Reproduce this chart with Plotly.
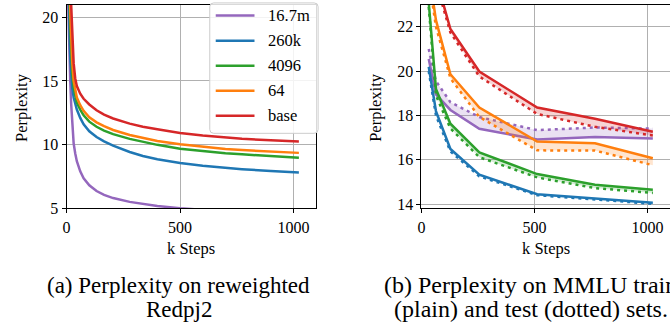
import plotly.graph_objects as go

# ---------------- data: (a) Perplexity on reweighted Redpj2 ----------------
steps_a = [4, 8, 12, 16, 20, 25, 31, 38, 45, 60, 75, 100, 132, 165, 205, 278,
           336, 400, 500, 600, 700, 773, 900, 1024]
ppl_167m = [23.0, 19.5, 17.0, 15.0, 13.2, 11.5, 10.1, 9.3, 8.7, 7.9, 7.35, 6.8,
            6.35, 6.05, 5.8, 5.5, 5.32, 5.18, 5.0, 4.86, 4.74, 4.66, 4.55, 4.46]
ppl_260k = [35.0, 24.0, 19.5, 16.8, 15.3, 14.4, 13.7, 13.15, 12.75, 12.1, 11.6,
            11.05, 10.6, 10.25, 9.92, 9.42, 9.1, 8.85, 8.55, 8.33, 8.17, 8.07,
            7.92, 7.8]
ppl_4096 = [38.0, 27.0, 22.0, 19.2, 17.2, 15.6, 14.5, 13.75, 13.3, 12.75, 12.3,
            11.8, 11.4, 11.1, 10.82, 10.45, 10.2, 9.98, 9.68, 9.48, 9.33, 9.24,
            9.08, 8.96]
ppl_64 = [40.0, 29.0, 23.5, 20.5, 18.3, 16.4, 15.0, 14.2, 13.7, 13.1, 12.65,
          12.15, 11.75, 11.45, 11.15, 10.75, 10.5, 10.28, 10.02, 9.82, 9.66,
          9.57, 9.45, 9.35]
ppl_base = [45.0, 33.0, 27.0, 23.5, 21.0, 18.6, 16.4, 15.2, 14.6, 14.0, 13.6,
            13.15, 12.7, 12.35, 12.05, 11.65, 11.4, 11.2, 10.92, 10.72, 10.56,
            10.46, 10.34, 10.24]

# ---------------- data: (b) MMLU train (plain) / test (dotted) ----------------
steps_b = [32, 64, 128, 256, 512, 768, 1024]
train_167m = [20.55, 18.95, 18.25, 17.4, 16.92, 17.03, 16.96]
test_167m = [21.0, 19.55, 18.6, 17.93, 17.34, 17.46, 17.41]
train_260k = [20.2, 18.2, 16.49, 15.33, 14.45, 14.26, 14.07]
test_260k = [20.0, 18.0, 16.38, 15.26, 14.41, 14.21, 14.02]
train_4096 = [23.1, 19.2, 17.63, 16.34, 15.36, 14.88, 14.65]
test_4096 = [22.9, 18.9, 17.42, 16.12, 15.21, 14.73, 14.51]
train_64 = [24.5, 22.3, 19.86, 18.36, 16.83, 16.75, 16.07]
test_64 = [24.2, 22.0, 19.68, 17.93, 16.43, 16.42, 15.76]
train_base = [26.0, 24.2, 21.9, 19.98, 18.36, 17.85, 17.27]
test_base = [25.8, 24.0, 21.74, 19.76, 18.07, 17.49, 17.1]

labels = ["16.7m", "260k", "4096", "64", "base"]
colors = ["#9467bd", "#1f77b4", "#2ca02c", "#ff7f0e", "#d62728"]
fills = ["rgba(148,103,189,0.2)", "rgba(31,119,180,0.2)", "rgba(44,160,44,0.2)",
         "rgba(255,127,14,0.2)", "rgba(214,39,40,0.2)"]

curves_a = [ppl_167m, ppl_260k, ppl_4096, ppl_64, ppl_base]
train_b = [train_167m, train_260k, train_4096, train_64, train_base]
test_b = [test_167m, test_260k, test_4096, test_64, test_base]

W, H = 670, 335
FONT = "Times New Roman, Liberation Serif, Times, serif"

def px(x):
    return x / W

def py(y):
    return 1 - y / H

fig = go.Figure()

for i, (lab, col, ys) in enumerate(zip(labels, colors, curves_a)):
    fig.add_trace(go.Scatter(x=steps_a, y=ys, mode="lines", name=lab,
                             line=dict(color=col, width=2.5),
                             xaxis="x", yaxis="y"))

for i, (lab, col, fc) in enumerate(zip(labels, colors, fills)):
    fig.add_trace(go.Scatter(x=steps_b, y=test_b[i], mode="lines", name=lab + " test",
                             line=dict(color=col, width=2.5, dash="3px,4px"),
                             xaxis="x2", yaxis="y2"))
    fig.add_trace(go.Scatter(x=steps_b, y=train_b[i], mode="lines", name=lab + " train",
                             line=dict(color=col, width=2.5),
                             fill="tonexty", fillcolor=fc,
                             xaxis="x2", yaxis="y2"))

ydom = [py(214), py(4.7)]
axis_common = dict(showgrid=True, gridcolor="#b0b0b0", gridwidth=1,
                   showline=True, linecolor="black", linewidth=1.2,
                   ticks="outside", ticklen=4, tickwidth=1.2, tickcolor="black",
                   tickfont=dict(family=FONT, size=16, color="black"),
                   zeroline=False)

fig.update_layout(
    width=W, height=H,
    margin=dict(l=0, r=0, t=0, b=0),
    paper_bgcolor="white", plot_bgcolor="white",
    font=dict(family=FONT, color="black"),
    showlegend=False,
    xaxis=dict(domain=[px(63), px(314)], range=[0, 1100], tickvals=[0, 500, 1000],
               mirror=True, anchor="y", **axis_common),
    yaxis=dict(domain=ydom, range=[5, 21], tickvals=[5, 10, 15, 20],
               mirror=True, anchor="x", **axis_common),
    xaxis2=dict(domain=[px(420), 1.0], range=[0, 1100], tickvals=[0, 500, 1000],
                mirror=True, anchor="y2", **axis_common),
    yaxis2=dict(domain=ydom, range=[13.82, 23], tickvals=[14, 16, 18, 20, 22],
                mirror=False, anchor="x2", **axis_common),
)

# ---- legend box (matplotlib style, rounded corners) drawn in paper coords ----
L, R, T, B, r = 207, 316, 3, 137, 4
path = (f"M {px(L + r)},{py(T)} L {px(R - r)},{py(T)} "
        f"Q {px(R)},{py(T)} {px(R)},{py(T + r)} "
        f"L {px(R)},{py(B - r)} Q {px(R)},{py(B)} {px(R - r)},{py(B)} "
        f"L {px(L + r)},{py(B)} Q {px(L)},{py(B)} {px(L)},{py(B - r)} "
        f"L {px(L)},{py(T + r)} Q {px(L)},{py(T)} {px(L + r)},{py(T)} Z")
fig.add_shape(type="path", path=path, xref="paper", yref="paper", layer="above",
              fillcolor="rgba(255,255,255,0.85)", line=dict(color="#cccccc", width=1))
entry_y = [16, 41.8, 67.5, 93.3, 119]
for lab, col, ey in zip(labels, colors, entry_y):
    fig.add_shape(type="line", xref="paper", yref="paper", layer="above",
                  x0=px(213), x1=px(252), y0=py(ey), y1=py(ey),
                  line=dict(color=col, width=2.5))
    fig.add_annotation(text=lab, x=px(264), y=py(ey), xref="paper", yref="paper",
                       xanchor="left", yanchor="middle", showarrow=False,
                       font=dict(family=FONT, size=16.5, color="black"))

ann = [
    dict(text="Perplexity", x=px(17), y=py(110), textangle=-90, size=16.5),
    dict(text="Perplexity", x=px(373), y=py(110), textangle=-90, size=16.5),
    dict(text="k Steps", x=px(188), y=py(255), textangle=0, size=16.5),
    dict(text="k Steps", x=px(545), y=py(255), textangle=0, size=16.5),
    dict(text="(a) Perplexity on reweighted", x=px(176), y=py(293), textangle=0, size=23),
    dict(text="Redpj2", x=px(176), y=py(318), textangle=0, size=23),
    dict(text="(b) Perplexity on MMLU train", x=px(530), y=py(293), textangle=0, size=24),
    dict(text="(plain) and test (dotted) sets.", x=px(530), y=py(318), textangle=0, size=24),
]
for a in ann:
    fig.add_annotation(text=a["text"], x=a["x"], y=a["y"], xref="paper", yref="paper",
                       xanchor="center", yanchor="middle", showarrow=False,
                       textangle=a["textangle"],
                       font=dict(family=FONT, size=a["size"], color="black"))

fig.write_html("out.html",
               config={"displayModeBar": False},
               post_script="document.body.style.margin='0px';"
                           "document.body.style.overflow='hidden';")
